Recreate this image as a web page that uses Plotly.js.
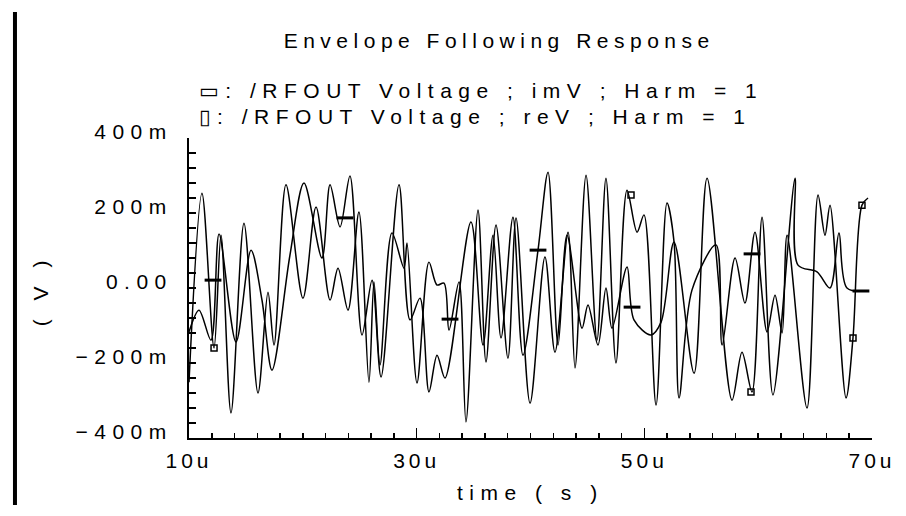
<!DOCTYPE html>
<html>
<head>
<meta charset="utf-8">
<script src="https://cdn.plot.ly/plotly-3.0.1.min.js"></script>
<style>
  html, body { margin: 0; padding: 0; background: #fff; }
  #chart { width: 906px; height: 516px; }
  text.gtitle { letter-spacing: 5.5px; }
  text.annotation-text { letter-spacing: 6.5px; }
  .ytick text { letter-spacing: 6.5px; }
  .xtick text { letter-spacing: 4px; }
</style>
</head>
<body>
<div id="chart"></div>
<script>
// time in microseconds, voltage in volts
const tRe = [10.0, 11.14, 12.20, 12.81, 13.69, 14.83, 16.06, 16.94, 17.47, 18.52, 20.01, 21.16, 22.39, 23.09, 23.97, 24.93, 25.81, 26.25, 26.78, 27.83, 28.89, 29.15, 30.03, 31.08, 31.79, 32.40, 32.84, 33.72, 34.33, 35.39, 36.09, 36.97, 38.02, 38.73, 39.96, 41.27, 42.15, 43.30, 43.91, 44.88, 45.84, 46.63, 47.51, 48.48, 49.36, 49.97, 51.03, 51.99, 52.61, 53.05, 54.19, 56.30, 56.83, 57.97, 58.84, 59.72, 60.78, 61.48, 62.10, 62.54, 64.29, 65.26, 65.87, 66.31, 67.72, 68.33, 69.12, 69.65];
const vRe = [-0.251, 0.253, -0.160, 0.141, -0.333, 0.173, -0.280, -0.011, -0.152, 0.275, -0.027, 0.216, -0.032, 0.053, -0.059, 0.203, -0.251, 0.016, -0.205, 0.147, 0.053, 0.120, -0.253, 0.069, 0.008, 0.013, -0.112, 0.016, -0.357, 0.208, -0.197, 0.168, -0.187, 0.187, -0.307, 0.083, -0.171, 0.149, -0.213, 0.301, -0.139, 0.293, -0.200, 0.261, 0.149, 0.195, -0.312, 0.227, 0.123, -0.293, -0.005, 0.115, -0.152, 0.080, -0.040, 0.149, -0.117, -0.019, -0.120, 0.141, -0.320, 0.248, 0.141, 0.221, -0.293, -0.133, 0.221, 0.240];

const tIm = [10.0, 10.88, 11.93, 12.64, 14.13, 15.45, 16.41, 17.29, 18.87, 20.10, 21.68, 22.39, 23.27, 24.14, 25.20, 26.08, 26.87, 28.45, 29.42, 30.29, 31.08, 31.79, 32.49, 34.77, 35.83, 36.71, 37.41, 38.46, 39.34, 40.66, 41.54, 42.42, 43.21, 44.53, 45.05, 45.93, 46.63, 47.16, 48.48, 49.09, 50.59, 51.47, 52.61, 54.37, 55.51, 57.70, 58.58, 59.46, 60.34, 61.30, 63.24, 63.50, 65.17, 66.31, 67.10, 67.80, 69.65];
const vIm = [-0.117, -0.059, -0.139, 0.144, -0.144, 0.101, -0.032, -0.219, 0.088, 0.280, 0.080, 0.275, 0.163, 0.299, -0.125, 0.021, -0.237, 0.275, -0.085, -0.027, -0.277, -0.179, -0.240, 0.176, -0.152, 0.141, -0.133, 0.189, -0.179, 0.101, 0.309, -0.152, 0.141, -0.107, -0.045, -0.152, 0.000, -0.107, 0.056, -0.085, -0.125, -0.091, 0.123, -0.227, 0.293, -0.299, -0.171, -0.277, 0.189, -0.285, 0.293, 0.061, 0.043, 0.000, 0.147, 0.000, -0.008];

// trace marker positions
const imMarkT = [12.11, 23.70, 32.93, 40.66, 48.92, 59.46, 69.03];
const imMarkV = [0.021, 0.187, -0.083, 0.101, -0.051, 0.091, -0.008];
const reMarkT = [12.20, 48.83, 59.37, 68.33, 69.12];
const reMarkV = [-0.160, 0.248, -0.277, -0.133, 0.221];

// axis ticks
const xTickVals = [10, 30, 50, 70];
const xTickText = ['10u', '30u', '50u', '70u'];
const yTickVals = [-0.4, -0.2, 0, 0.2, 0.4];
const yTickText = ['\u2212400m', '\u2212200m', '0.00', '200m', '400m'];

const titleText = 'Envelope Following Response';
const legendIm = '\u25AD: /RFOUT Voltage ; imV ; Harm = 1';
const legendRe = '\u25AF: /RFOUT Voltage ; reV ; Harm = 1';
const xTitle = 'time ( s )';
const yTitle = '( V )';

const FONT = '"Liberation Sans", Arial, "DejaVu Sans", sans-serif';
const FS = 21;
const lineStyle = {color: '#000', width: 1.5, shape: 'spline', smoothing: 0.9};

const data = [
  {x: tIm, y: vIm, type: 'scatter', mode: 'lines', line: lineStyle, name: 'imV', hoverinfo: 'skip'},
  {x: tRe, y: vRe, type: 'scatter', mode: 'lines', line: lineStyle, name: 'reV', hoverinfo: 'skip'},
  {x: imMarkT, y: imMarkV, type: 'scatter', mode: 'markers', name: 'imV markers', hoverinfo: 'skip',
   marker: {symbol: 'line-ew-open', size: 12, color: '#000', line: {color: '#000', width: 3}}},
  {x: reMarkT, y: reMarkV, type: 'scatter', mode: 'markers', name: 'reV markers', hoverinfo: 'skip',
   marker: {symbol: 'square-open', size: 6, color: '#000', line: {color: '#000', width: 1.5}}}
];

const layout = {
  width: 906, height: 516,
  margin: {l: 189, r: 34, t: 138, b: 78, pad: 0},
  paper_bgcolor: '#fff', plot_bgcolor: '#fff',
  showlegend: false,
  font: {family: FONT, size: FS, color: '#000'},
  title: {text: titleText, x: 0.551, xref: 'container', xanchor: 'center',
          y: 0.922, yref: 'container', yanchor: 'middle',
          font: {family: FONT, size: FS, color: '#000'}},
  xaxis: {
    range: [10, 70], showgrid: false, zeroline: false,
    showline: true, linecolor: '#000', linewidth: 2,
    tickvals: xTickVals, ticktext: xTickText,
    ticks: 'inside', ticklen: 10, tickwidth: 1.5, tickcolor: '#000',
    ticklabelstandoff: 3,
    minor: {dtick: 2, tick0: 10, ticks: 'inside', ticklen: 5, tickwidth: 1.5, tickcolor: '#000', showgrid: false},
    tickfont: {family: FONT, size: FS, color: '#000'}
  },
  yaxis: {
    range: [-0.4, 0.4], showgrid: false, zeroline: false,
    showline: true, linecolor: '#000', linewidth: 2,
    tickvals: yTickVals, ticktext: yTickText,
    ticks: 'inside', ticklen: 7, tickwidth: 1.5, tickcolor: '#000',
    ticklabelstandoff: 10, ticklabelshift: -6,
    minor: {dtick: 0.04, tick0: -0.4, ticks: 'inside', ticklen: 7, tickwidth: 1.5, tickcolor: '#000', showgrid: false},
    tickfont: {family: FONT, size: FS, color: '#000'}
  },
  annotations: [
    {text: legendIm, xref: 'paper', yref: 'paper', x: 0.0117, y: 1.16, xanchor: 'left', yanchor: 'middle',
     showarrow: false, font: {family: FONT, size: FS, color: '#000'}},
    {text: legendRe, xref: 'paper', yref: 'paper', x: 0.0117, y: 1.07, xanchor: 'left', yanchor: 'middle',
     showarrow: false, font: {family: FONT, size: FS, color: '#000'}},
    {text: xTitle, xref: 'paper', yref: 'paper', x: 0.5, y: -0.183, xanchor: 'center', yanchor: 'middle',
     showarrow: false, font: {family: FONT, size: FS, color: '#000'}},
    {text: yTitle, xref: 'paper', yref: 'paper', x: -0.218, y: 0.493, xanchor: 'center', yanchor: 'middle',
     textangle: -90, showarrow: false, font: {family: FONT, size: FS, color: '#000'}}
  ],
  shapes: [
    {type: 'line', xref: 'paper', yref: 'paper', x0: -0.2548, x1: -0.2548, y0: 1.42, y1: -0.2233,
     line: {color: '#000', width: 4}}
  ]
};

Plotly.newPlot('chart', data, layout, {staticPlot: true, displayModeBar: false});
</script>
</body>
</html>
